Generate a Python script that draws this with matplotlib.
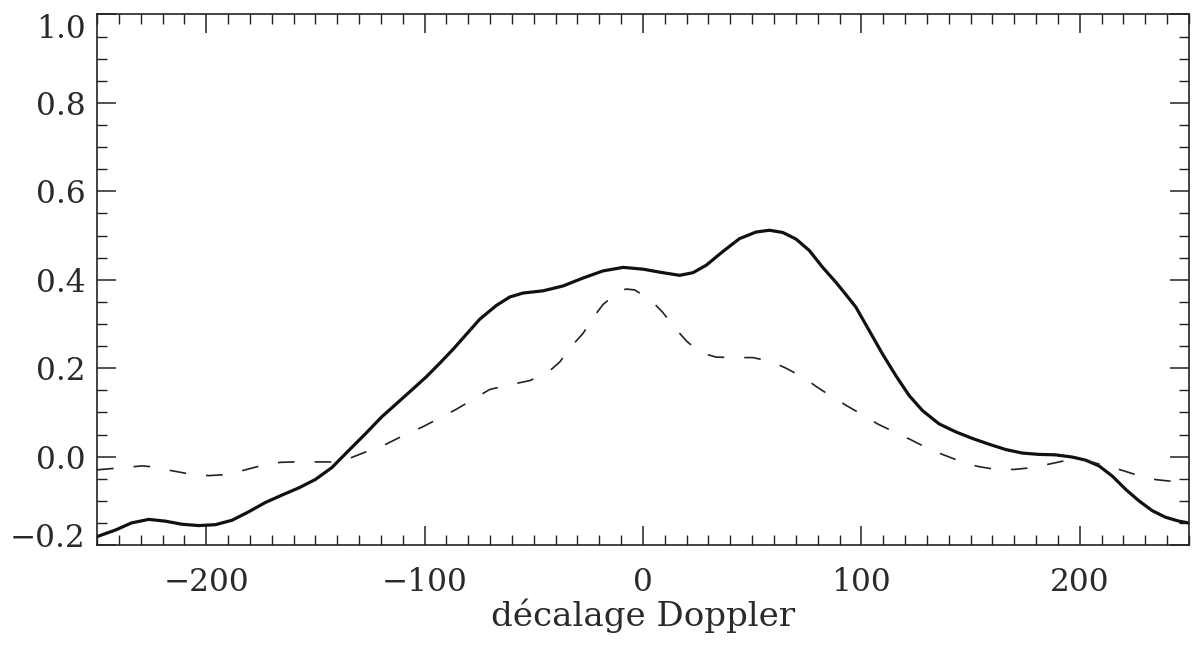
#!/usr/bin/env python3
"""Doppler shift profiles: two curves against décalage Doppler."""

import matplotlib.pyplot as plt
from matplotlib.ticker import MultipleLocator
from matplotlib.transforms import ScaledTranslation

# solid curve
x_solid = [-250, -241.5, -234.2, -226.3, -218.7, -211.1, -203.4, -195.8,
           -188.2, -180.6, -173.0, -165.3, -157.7, -150.1, -142.5, -134.9,
           -127.2, -119.6, -112.8, -106.7, -99.1, -92.9, -86.9, -80.8,
           -74.7, -67.1, -61.0, -54.9, -45.7, -36.6, -27.4, -18.3, -9.1,
           0.0, 9.1, 16.8, 22.9, 29.0, 36.6, 44.2, 51.8, 57.9, 64.0, 70.1,
           76.2, 82.3, 88.4, 93.0, 97.5, 103.6, 109.7, 115.8, 121.9, 128.0,
           135.6, 143.2, 150.9, 158.5, 166.1, 173.7, 181.3, 188.9, 196.6,
           202.7, 208.8, 214.9, 221.0, 227.1, 233.1, 239.2, 245.4, 250]
y_solid = [-0.181, -0.166, -0.150, -0.142, -0.146, -0.153, -0.156, -0.154,
           -0.144, -0.125, -0.104, -0.087, -0.071, -0.052, -0.025, 0.013,
           0.051, 0.090, 0.120, 0.147, 0.181, 0.212, 0.243, 0.277, 0.311,
           0.342, 0.361, 0.370, 0.375, 0.386, 0.404, 0.420, 0.428, 0.424,
           0.416, 0.410, 0.416, 0.433, 0.464, 0.493, 0.508, 0.512, 0.507,
           0.492, 0.466, 0.428, 0.394, 0.366, 0.338, 0.285, 0.232, 0.183,
           0.138, 0.104, 0.074, 0.056, 0.041, 0.028, 0.016, 0.008, 0.005,
           0.004, -0.001, -0.008, -0.021, -0.044, -0.074, -0.100, -0.122,
           -0.137, -0.146, -0.150]

# dashed curve
x_dash = [-250, -229.3, -224.8, -215.6, -208.0, -198.9, -192.0, -182.9,
          -175.2, -166.1, -159.2, -150.1, -142.5, -133.4, -127.2, -118.1,
          -112.0, -100.6, -85.5, -70.1, -59.4, -51.8, -43.4, -38.1, -32.8,
          -27.4, -22.9, -18.3, -10.7, -7.6, -3.8, 3.8, 9.1, 14.5, 19.8,
          25.9, 33.5, 42.7, 50.3, 58.7, 65.5, 73.9, 79.2, 86.9, 93.7, 101.4,
          107.4, 115.8, 122.7, 130.3, 137.1, 145.5, 153.1, 161.5, 169.9,
          178.3, 185.9, 193.5, 202.7, 211.8, 218.7, 227.1, 234.7, 250]
y_dash = [-0.030, -0.021, -0.023, -0.032, -0.039, -0.043, -0.041, -0.031,
          -0.021, -0.013, -0.012, -0.012, -0.012, -0.002, 0.010, 0.027,
          0.042, 0.068, 0.107, 0.152, 0.164, 0.172, 0.191, 0.214, 0.249,
          0.279, 0.314, 0.344, 0.375, 0.379, 0.377, 0.353, 0.326, 0.292,
          0.262, 0.236, 0.225, 0.224, 0.224, 0.215, 0.200, 0.178, 0.159,
          0.134, 0.114, 0.092, 0.074, 0.054, 0.038, 0.019, 0.005, -0.011,
          -0.022, -0.029, -0.029, -0.025, -0.017, -0.009, -0.008, -0.021,
          -0.030, -0.043, -0.052, -0.060]

x_ticks = [-200, -100, 0, 100, 200]
y_ticks = [-0.2, 0.0, 0.2, 0.4, 0.6, 0.8, 1.0]

INK = '#222222'

plt.rcParams['font.family'] = 'DejaVu Serif'
plt.rcParams['font.size'] = 22.5

fig = plt.figure(figsize=(11.93, 6.47), dpi=100)
ax = fig.add_axes([0.0813, 0.1576, 0.9153, 0.82])

ax.plot(x_solid, y_solid, color='#111111', lw=2.3, solid_joinstyle='round',
        solid_capstyle='round')
ax.plot(x_dash, y_dash, color=INK, lw=1.2, dashes=(10, 12))

ax.set_xlim(-250, 250)
ax.set_ylim(-0.2, 1.0)
ax.set_xticks(x_ticks)
ax.set_xticklabels([f'{v:d}'.replace('-', '\u2212') for v in x_ticks])
ax.set_yticks(y_ticks)
ax.set_yticklabels([f'{v:.1f}'.replace('-', '\u2212') for v in y_ticks])
ax.xaxis.set_minor_locator(MultipleLocator(10))
ax.yaxis.set_minor_locator(MultipleLocator(0.05))

ax.tick_params(which='both', direction='in', top=True, right=True,
               color=INK, labelcolor='#2a2a2a')
ax.tick_params(which='major', length=14, width=1.1)
ax.tick_params(which='minor', length=7, width=1.0)
ax.tick_params(axis='x', which='major', pad=16)
ax.tick_params(axis='y', which='major', pad=8)
for s in ax.spines.values():
    s.set_linewidth(1.2)
    s.set_color(INK)

# end labels on the y axis sit inside the frame
labels = ax.get_yticklabels()
labels[0].set_transform(labels[0].get_transform() +
                        ScaledTranslation(0, 7 / 72, fig.dpi_scale_trans))
labels[-1].set_transform(labels[-1].get_transform() +
                         ScaledTranslation(0, -8 / 72, fig.dpi_scale_trans))

ax.set_xlabel('décalage Doppler', color='#2a2a2a', fontsize=24.5, labelpad=0)

fig.savefig('out.png', dpi=100)
plt.close(fig)
